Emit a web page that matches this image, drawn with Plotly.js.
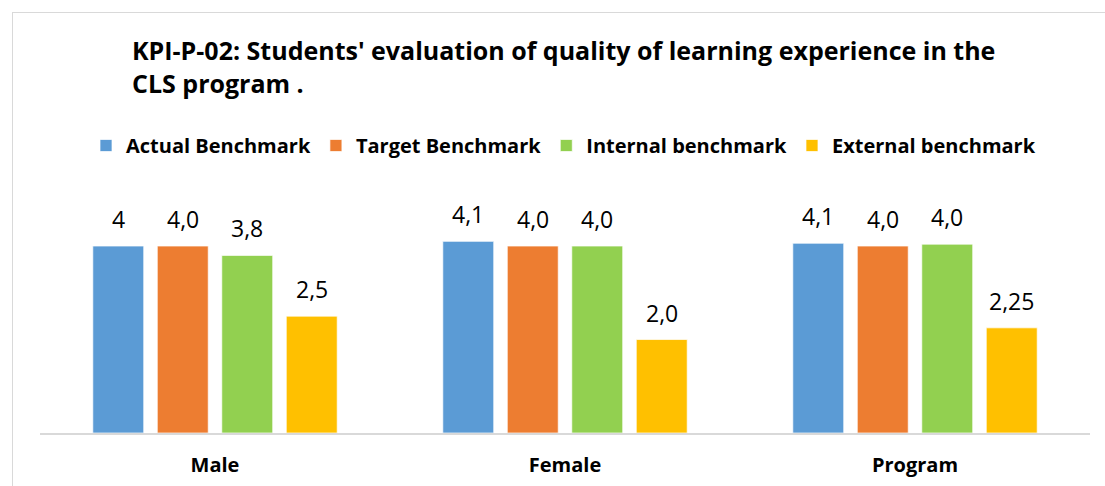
<!DOCTYPE html>
<html>
<head>
<meta charset="utf-8">
<script src="https://cdn.plot.ly/plotly-3.0.1.min.js"></script>
<style>
  html, body { margin: 0; padding: 0; background: #ffffff; }
  #frame { position: absolute; left: 12px; top: 12px; width: 1093px; height: 474px;
           border-left: 1px solid #d9d9d9; border-top: 1px solid #d9d9d9; box-sizing: border-box; }
  #chart { position: absolute; left: 0; top: 0; width: 1105px; height: 486px; }
</style>
</head>
<body>
<div id="frame"></div>
<div id="chart"></div>
<script>
// ---- data ----
const categories = ["Male", "Female", "Program"];
const seriesNames = ["Actual Benchmark", "Target Benchmark", "Internal benchmark", "External benchmark"];
const actualValues   = [4.0, 4.1, 4.06];
const targetValues   = [4.0, 4.0, 4.0];
const internalValues = [3.8, 4.0, 4.04];
const externalValues = [2.5, 2.0, 2.25];
const actualLabels   = ["4", "4,1", "4,1"];
const targetLabels   = ["4,0", "4,0", "4,0"];
const internalLabels = ["3,8", "4,0", "4,0"];
const externalLabels = ["2,5", "2,0", "2,25"];
const titleText = "KPI-P-02: Students' evaluation of quality of learning experience in the<br>CLS program .";

// ---- styling ----
const colors = ["#5B9BD5", "#ED7D31", "#92D050", "#FFC000"];
const allValues = [actualValues, targetValues, internalValues, externalValues];
const allLabels = [actualLabels, targetLabels, internalLabels, externalLabels];
const bargap = 0.263;
const bargroupgap = 0.21;
const fontFamily = "'Open Sans', Lato, sans-serif";

const traces = allValues.map((vals, j) => ({
  type: "bar",
  name: seriesNames[j],
  x: categories,
  y: vals,
  marker: { color: colors[j], line: { color: "rgba(255,255,255,0.7)", width: 1 } },
  hoverinfo: "skip"
}));

// value labels placed above each bar using the grouped-bar geometry
const nSeries = allValues.length;
const slot = (1 - bargap) / nSeries;
const annotations = [];
allValues.forEach((vals, j) => {
  vals.forEach((v, i) => {
    annotations.push({
      x: i + (j - (nSeries - 1) / 2) * slot,
      y: v,
      xref: "x", yref: "y",
      text: allLabels[j][i],
      showarrow: false,
      yanchor: "bottom",
      yshift: 9,
      font: { family: fontFamily, size: 23, color: "#000000" }
    });
  });
});

const layout = {
  width: 1105,
  height: 486,
  paper_bgcolor: "rgba(0,0,0,0)",
  plot_bgcolor: "rgba(0,0,0,0)",
  margin: { l: 40, r: 15, t: 217.5, b: 52.5, pad: 0 },
  barmode: "group",
  bargap: bargap,
  bargroupgap: bargroupgap,
  title: {
    text: titleText,
    x: 132 / 1105, xref: "container", xanchor: "left",
    y: 1 - 60 / 486, yref: "container", yanchor: "top",
    font: { family: fontFamily, size: 25, color: "#000000", weight: "bold" }
  },
  showlegend: true,
  legend: {
    orientation: "h",
    x: 86 / 1105, xref: "container", xanchor: "left",
    y: 1 - 126 / 486, yref: "container", yanchor: "top",
    font: { family: fontFamily, size: 20, color: "#000000", weight: "bold" },
    traceorder: "normal",
    itemwidth: 30
  },
  xaxis: {
    type: "category",
    showline: true,
    linecolor: "#d9d9d9",
    linewidth: 2,
    ticks: "outside",
    ticklen: 13,
    tickcolor: "rgba(0,0,0,0)",
    tickfont: { family: fontFamily, size: 20, color: "#000000", weight: "bold" },
    showgrid: false,
    zeroline: false
  },
  yaxis: {
    range: [0, 4.6],
    visible: false,
    showgrid: false,
    zeroline: false
  },
  annotations: annotations
};

Plotly.newPlot("chart", traces, layout, { displayModeBar: false, staticPlot: true });
</script>
</body>
</html>
